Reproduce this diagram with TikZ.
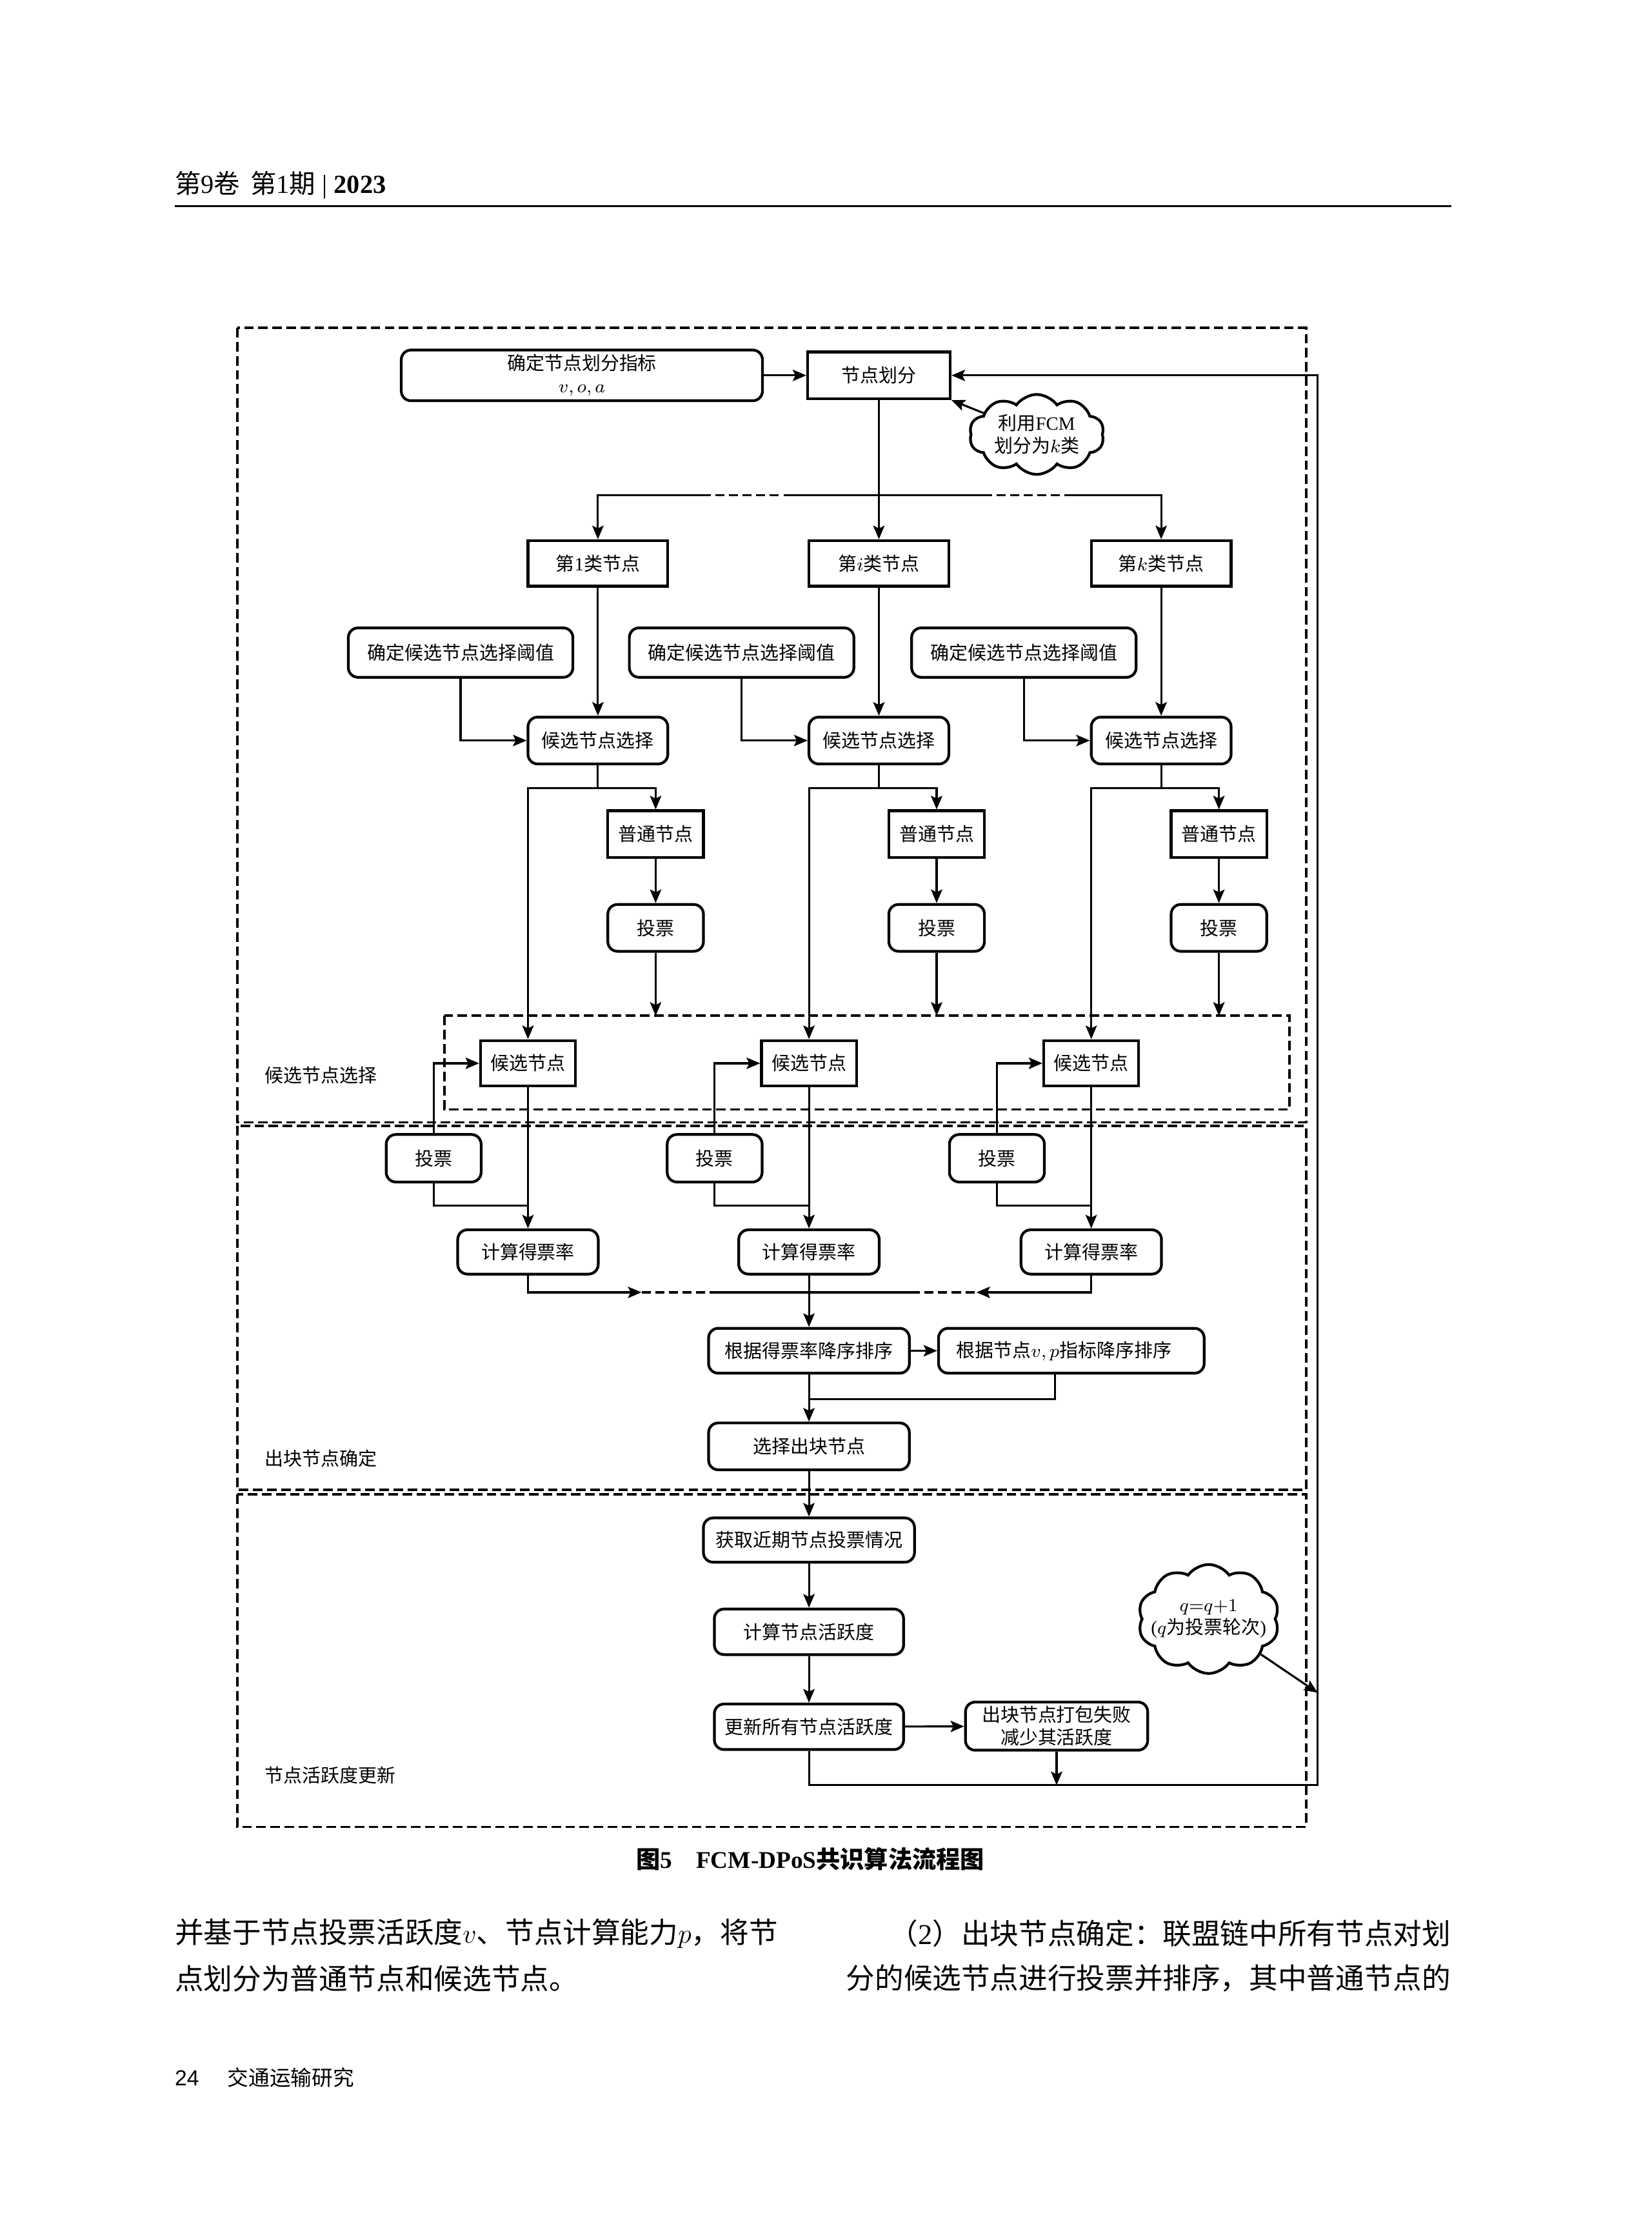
\documentclass[tikz,border=0pt]{standalone}
\usepackage{fontspec}
\setmainfont{Liberation Serif}
\setsansfont{Liberation Sans}
\newfontfamily\cjk{Noto Sans CJK SC}
\usetikzlibrary{arrows.meta,shapes.symbols}
\newcommand\myfigfont{\cjk\fontsize{8.25pt}{10pt}\selectfont}
\newcommand\myhdrfont{\cjk\fontsize{11.5pt}{13pt}\selectfont}
\newcommand\mybodyfont{\cjk\fontsize{12.7pt}{15pt}\selectfont}
\newcommand\mycapfont{\cjk\bfseries\fontsize{10.6pt}{12pt}\selectfont}
\newcommand\myfootfont{\cjk\fontsize{9.3pt}{11pt}\selectfont}
\begin{document}
\begin{tikzpicture}[x=0.009945cm,y=-0.009945cm,
  sz/.style 2 args={minimum width=#1*0.009945cm,minimum height=#2*0.009945cm},
  box/.style={draw,fill=white,line width=1.2pt,inner sep=0pt,font=\myfigfont,align=center},
  rbox/.style={box,rounded corners=0.15cm},
  conn/.style={line width=0.9pt},
  arr/.style={conn,-{Stealth[length=6pt,width=5pt,inset=1.2pt]}},
  dsh/.style={dash pattern=on 4pt off 2pt},
  sec/.style={line width=1.1pt,dash pattern=on 4.2pt off 2pt},
  lbl/.style={font=\myfigfont,anchor=west,inner sep=0pt},
  cloudnode/.style={cloud,draw,fill=white,line width=1.2pt,cloud puffs=10,cloud puff arc=110,cloud ignores aspect,inner sep=0pt}
]
\fill[white] (0,0) rectangle (2575,3469);
\useasboundingbox (0,0) rectangle (2575,3469);

% header
\node[anchor=west,inner sep=0pt,font=\myhdrfont] (hdr) at (272,288) {第{\rmfamily 9}卷\hspace{0.4em}第{\rmfamily 1}期{\rmfamily\hspace{0.25em}|\hspace{0.25em}\bfseries 2023}};
\draw[line width=0.8pt] (272,321) -- (2262,321);

% sections
\draw[sec] (370,511) rectangle (2036,1749);
\draw[sec] (370,1755) rectangle (2036,2322);
\draw[sec] (370,2329) rectangle (2036,2847);
\draw[sec] (693,1583) rectangle (2010,1729);
\node[lbl] (lab1) at (412,1676) {候选节点选择};
\node[lbl] (lab2) at (412,2273) {出块节点确定};
\node[lbl] (lab3) at (412,2767) {节点活跃度更新};

% top
\node[rbox,sz={563}{79}] (idx) at (907,585) {确定节点划分指标\\$v, o, a$};
\node[box,sz={222}{73}] (part) at (1370,585) {节点划分};
\node[cloudnode,minimum width=2.09cm,minimum height=1.24cm] (cl1) at (1616,677) {};
\node[font=\myfigfont,align=center,inner sep=0pt] (cl1t) at (cl1) {利用{\rmfamily FCM}\\划分为$k$类};
\draw[arr] (idx.east) -- (part.west);
\draw[arr] (cl1) -- (part.south east);

\coordinate (bm) at (1370,772);
\coordinate (d1a) at (1094,772);
\coordinate (d1b) at (1225,772);
\coordinate (d2a) at (1532,772);
\coordinate (d2b) at (1663,772);
\draw[conn] (part.south) -- (bm);
\draw[conn,dsh] (d1a) -- (d1b);
\draw[conn] (d1b) -- (d2a);
\draw[conn,dsh] (d2a) -- (d2b);

\foreach \i/\X/\t in {1/932/{第{\rmfamily 1}类节点},2/1370/{第$i$类节点},3/1810/{第$k$类节点}}{
  \node[box,sz={218}{71}] (cat\i) at (\X,878) {\t};
  \node[rbox,sz={350}{77}] (thr\i) at (\X-214,1017) {确定候选节点选择阈值};
  \node[rbox,sz={218}{73}] (sel\i) at (\X,1154) {候选节点选择};
  \node[box,sz={149}{73}] (nor\i) at (\X+90,1300) {普通节点};
  \node[rbox,sz={149}{73}] (vt\i) at (\X+90,1446) {投票};
  \node[box,sz={148}{71}] (cand\i) at (\X-109,1657) {候选节点};
  \node[rbox,sz={148}{74}] (vb\i) at (\X-256,1805) {投票};
  \node[rbox,sz={219}{69}] (calc\i) at (\X-109,1951) {计算得票率};
  \coordinate (sp\i) at (\X,1228);
  \coordinate (tp\i) at (\X+90,1583);
  \coordinate (jn\i) at (\X-109,1879);
  \draw[arr] (cat\i) -- (sel\i);
  \draw[arr] (thr\i.south) |- (sel\i.west);
  \draw[conn] (sel\i.south) -- (sp\i);
  \draw[arr] (sp\i) -| (cand\i.north);
  \draw[arr] (sp\i) -| (nor\i.north);
  \draw[arr] (nor\i) -- (vt\i);
  \draw[arr] (vt\i.south) -- (tp\i);
  \draw[arr] (vb\i.north) |- (cand\i.west);
  \draw[conn] (vb\i.south) |- (jn\i);
  \draw[arr] (cand\i) -- (calc\i);
}
\draw[arr] (d1a) -| (cat1.north);
\draw[arr] (bm) -- (cat2);
\draw[arr] (d2b) -| (cat3.north);

% merge
\coordinate (m1) at (1000,2014);
\coordinate (m2) at (1115,2014);
\coordinate (m3) at (1420,2014);
\coordinate (m4) at (1522,2014);
\draw[arr] (calc1.south) |- (m1);
\draw[conn,dsh] (m1) -- (m2);
\draw[conn] (m2) -- (m3);
\draw[conn,dsh] (m3) -- (m4);
\draw[arr] (calc3.south) |- (m4);

\node[rbox,sz={313}{70}] (sort1) at (1261,2105) {根据得票率降序排序};
\node[rbox,sz={414}{70}] (sort2) at (1670,2105) {根据节点$v, p$指标降序排序\hspace{0.8em}};
\node[rbox,sz={313}{73}] (choose) at (1261,2254) {选择出块节点};
\node[rbox,sz={329}{69}] (get) at (1261,2400) {获取近期节点投票情况};
\node[rbox,sz={295}{71}] (calcact) at (1261,2543) {计算节点活跃度};
\node[rbox,sz={295}{71}] (update) at (1261,2691) {更新所有节点活跃度};
\node[rbox,sz={284}{75}] (fail) at (1647,2690) {出块节点打包失败\\减少其活跃度};
\node[cloudnode,minimum width=2.19cm,minimum height=1.69cm] (cl2) at (1884,2523) {};
\node[font=\myfigfont,align=center,inner sep=0pt] (cl2t) at (cl2) {$q{=}q{+}1$\\{\rmfamily(}$q$为投票轮次{\rmfamily)}};

\draw[arr] (calc2) -- (sort1);
\draw[arr] (sort1) -- (sort2);
\coordinate (j2) at (1261,2180);
\draw[conn] ([xshift=-0.25cm]sort2.south) |- (j2);
\draw[arr] (sort1) -- (choose);
\draw[arr] (choose) -- (get);
\draw[arr] (get) -- (calcact);
\draw[arr] (calcact) -- (update);
\draw[arr] (update) -- (fail);
\coordinate (rb) at (2054,2782);
\coordinate (fb) at (2054,2638);
\draw[arr] (update.south) |- (rb) |- (part.east);
\draw[arr] (fail.south) -- (fail.south |- rb);
\draw[arr] (cl2) -- (fb);

% caption and body
\node[font=\mycapfont,inner sep=0pt] (cap) at (1263,2897) {图{\rmfamily 5\quad FCM-DPoS}共识算法流程图};
\node[anchor=west,inner sep=0pt,font=\mybodyfont] (b1) at (272,3013) {并基于节点投票活跃度$v$、节点计算能力$p$，将节};
\node[anchor=west,inner sep=0pt,font=\mybodyfont] (b2) at (272,3083) {点划分为普通节点和候选节点。};
\node[anchor=east,inner sep=0pt,font=\mybodyfont] (b3) at (2262,3013) {（{\rmfamily 2}）出块节点确定：联盟链中所有节点对划};
\node[anchor=east,inner sep=0pt,font=\mybodyfont] (b4) at (2262,3083) {分的候选节点进行投票并排序，其中普通节点的};
\node[anchor=west,inner sep=0pt,font=\sffamily\fontsize{9.6pt}{11pt}\selectfont] (pg) at (272,3238) {24};
\node[anchor=west,inner sep=0pt,font=\myfootfont] (jour) at (354,3238) {交通运输研究};
\end{tikzpicture}
\end{document}
